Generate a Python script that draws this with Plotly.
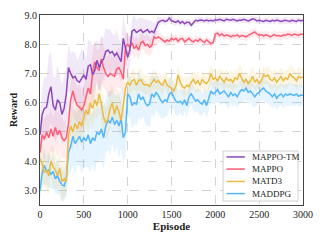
import plotly.graph_objects as go

episodes = list(range(0, 3001, 25))

mappo_tm = [4.9, 5.6, 5.8, 5.85, 6.3, 6.55, 5.9, 5.75, 6.1, 6.0, 5.6, 5.8, 6.3,
            7.2, 7.0, 6.85, 6.9, 6.75, 6.7, 6.85, 6.95, 6.8, 7.25, 7.3, 6.95, 7.1, 7.45, 7.2,
            7.4, 7.5, 7.75, 7.8, 7.7, 7.75, 7.6, 7.7, 7.55, 7.4, 8.2, 7.9, 7.55, 7.8,
            8.45, 8.5, 8.4, 8.45, 8.5, 8.4, 8.45, 8.5, 8.4, 8.45, 8.4, 8.6, 8.75,
            8.8, 8.82, 8.78, 8.8, 8.9, 8.8, 8.78, 8.75, 8.8, 8.72, 8.78, 8.7, 8.75, 8.75, 8.65,
            8.72, 8.82, 8.8, 8.83, 8.82, 8.8, 8.83, 8.8, 8.82, 8.8, 8.84, 8.82, 8.85, 8.83,
            8.8, 8.85, 8.83, 8.82, 8.85, 8.82, 8.8, 8.83, 8.82, 8.85, 8.82, 8.8, 8.83, 8.87,
            8.85, 8.8, 8.82, 8.8, 8.78, 8.82, 8.8, 8.78, 8.82, 8.8, 8.83, 8.8, 8.78, 8.8,
            8.82, 8.8, 8.78, 8.82, 8.8, 8.78, 8.83, 8.8, 8.82]

mappo = [4.3, 4.9, 4.75, 5.0, 4.8, 5.1, 4.85, 5.15, 4.9, 5.05, 4.8, 4.7, 4.8,
         5.3, 6.1, 6.4, 6.1, 5.9, 5.85, 5.75, 5.9, 6.2, 6.5, 6.3, 7.0, 7.4, 7.2, 7.1,
         7.5, 7.2, 7.0, 6.9, 7.0, 6.95, 6.9, 7.15, 7.2, 7.05, 6.8, 7.9, 8.0, 7.9,
         8.05, 7.85, 7.95, 7.8, 8.05, 8.1, 7.95, 8.0, 7.9, 7.95, 8.25, 8.2, 8.25,
         8.2, 8.15, 8.08, 8.15, 8.1, 8.2, 8.15, 8.2, 8.1, 8.18, 8.2, 8.08, 8.15, 8.2, 8.12,
         8.08, 8.15, 8.1, 8.18, 8.1, 8.05, 8.15, 8.1, 8.02, 8.05, 8.35, 8.38, 8.3, 8.35,
         8.28, 8.32, 8.3, 8.25, 8.3, 8.28, 8.32, 8.25, 8.3, 8.28, 8.25, 8.3, 8.35, 8.38,
         8.42, 8.35, 8.3, 8.33, 8.28, 8.32, 8.3, 8.25, 8.3, 8.33, 8.28, 8.3, 8.27, 8.32,
         8.3, 8.35, 8.33, 8.3, 8.35, 8.32, 8.3, 8.35, 8.33]

matd3 = [4.1, 3.9, 3.6, 3.7, 3.5, 4.0, 3.8, 3.7, 3.5, 3.75, 3.3, 3.4, 3.3,
         4.9, 5.2, 5.0, 5.3, 5.1, 5.35, 5.2, 5.5, 5.75, 5.6, 6.0, 5.8, 6.1, 5.9, 6.3,
         5.95, 5.5, 5.3, 5.45, 5.8, 6.0, 5.6, 5.9, 5.7, 5.4, 5.9, 6.5, 6.7, 6.6,
         6.75, 6.8, 6.6, 6.75, 6.8, 6.65, 6.6, 6.62, 6.55, 6.7, 6.8, 6.7, 6.75,
         6.65, 6.6, 6.8, 6.6, 6.55, 6.5, 6.4, 6.55, 6.95, 6.7, 6.55, 6.5, 6.6, 6.55, 6.7,
         6.8, 6.65, 6.75, 6.6, 6.8, 6.7, 6.65, 6.75, 7.0, 6.8, 6.85, 6.75, 6.9, 6.8,
         6.7, 6.85, 6.75, 6.8, 6.7, 6.85, 6.8, 7.0, 6.85, 6.7, 6.8, 6.65, 6.75, 6.9,
         6.7, 6.8, 6.65, 6.75, 6.95, 6.9, 6.95, 6.8, 6.75, 6.85, 6.7, 6.8, 6.9, 6.75,
         6.85, 6.8, 7.0, 6.9, 6.85, 6.75, 6.9, 6.85, 6.88]

maddpg = [3.0, 3.6, 3.85, 3.65, 3.7, 3.55, 3.65, 3.4, 3.5, 3.3, 3.2, 3.15, 3.4,
          4.3, 4.5, 4.85, 4.6, 4.75, 4.85, 4.65, 4.8, 4.7, 4.9, 4.6, 4.8, 4.7, 5.0, 4.9,
          5.1, 4.8, 5.2, 5.4, 5.3, 5.5, 5.25, 5.4, 5.2, 5.45, 4.8, 5.0, 6.3, 6.2,
          5.9, 6.0, 5.95, 6.3, 6.1, 6.2, 6.0, 5.9, 5.95, 6.3, 6.2, 6.35, 6.25,
          6.1, 6.0, 6.1, 6.05, 6.3, 6.35, 6.2, 6.05, 6.0, 6.05, 5.95, 6.1, 5.9, 6.2, 6.3,
          6.15, 6.05, 6.1, 6.0, 5.95, 6.1, 5.9, 6.15, 6.4, 6.3, 6.35, 6.45, 6.3, 6.35,
          6.4, 6.3, 6.2, 6.35, 6.25, 6.3, 6.2, 6.35, 6.45, 6.4, 6.5, 6.35, 6.4, 6.3,
          6.2, 6.3, 6.35, 6.45, 6.5, 6.4, 6.35, 6.3, 6.2, 6.3, 6.15, 6.25, 6.3, 6.2,
          6.3, 6.25, 6.3, 6.28, 6.25, 6.3, 6.22, 6.26, 6.25]

# half-width of the shaded spread bands
mappo_tm_sd = [0.6, 0.9, 1.1, 1.0, 1.3, 1.2, 1.0, 1.1, 1.2, 0.9, 1.0, 1.1, 0.9,
               0.8, 0.7, 0.9, 0.8, 0.7, 0.9, 1.0, 0.8, 0.7, 0.9, 0.8, 1.0, 0.9, 0.7, 0.8,
               0.9, 0.7, 0.8, 0.7, 0.8, 0.6, 0.7, 0.8, 0.6, 0.7, 0.8, 0.6, 0.7, 0.5,
               0.4, 0.5, 0.4, 0.45, 0.4, 0.5, 0.4, 0.35, 0.4, 0.35, 0.3, 0.25, 0.2,
               0.12, 0.1, 0.13, 0.09, 0.12, 0.1, 0.14, 0.11, 0.1, 0.12, 0.09, 0.13, 0.1, 0.12, 0.11,
               0.1, 0.09, 0.12, 0.1, 0.11, 0.09, 0.1, 0.12, 0.1, 0.09, 0.11, 0.1, 0.12, 0.09,
               0.1, 0.11, 0.09, 0.1, 0.12, 0.1, 0.09, 0.11, 0.1, 0.12, 0.09, 0.1, 0.11, 0.1,
               0.09, 0.12, 0.1, 0.11, 0.09, 0.1, 0.12, 0.1, 0.09, 0.11, 0.1, 0.12, 0.09, 0.1,
               0.11, 0.1, 0.09, 0.12, 0.1, 0.11, 0.09, 0.1, 0.1]

mappo_sd = [0.4, 0.6, 0.7, 0.6, 0.8, 0.7, 0.6, 0.7, 0.8, 0.6, 0.7, 0.6, 0.7,
            0.8, 0.7, 0.8, 0.7, 0.6, 0.8, 0.7, 0.6, 0.8, 0.7, 0.8, 0.7, 0.8, 0.6, 0.7,
            0.8, 0.7, 0.6, 0.7, 0.8, 0.6, 0.7, 0.6, 0.7, 0.6, 0.7, 0.5, 0.4, 0.35,
            0.3, 0.35, 0.3, 0.35, 0.3, 0.25, 0.3, 0.35, 0.3, 0.25, 0.3, 0.25, 0.2,
            0.15, 0.13, 0.16, 0.12, 0.15, 0.13, 0.14, 0.16, 0.12, 0.15, 0.13, 0.17, 0.14, 0.12, 0.15,
            0.13, 0.16, 0.14, 0.12, 0.15, 0.13, 0.14, 0.12, 0.15, 0.13, 0.14, 0.12, 0.15, 0.13,
            0.14, 0.12, 0.13, 0.15, 0.12, 0.14, 0.13, 0.12, 0.15, 0.13, 0.14, 0.12, 0.13, 0.15,
            0.12, 0.14, 0.13, 0.12, 0.15, 0.13, 0.14, 0.12, 0.13, 0.15, 0.12, 0.14, 0.13, 0.12,
            0.15, 0.13, 0.14, 0.12, 0.13, 0.15, 0.12, 0.14, 0.13]

matd3_sd = [0.4, 0.6, 0.5, 0.7, 0.6, 0.5, 0.7, 0.6, 0.5, 0.6, 0.7, 0.6, 0.5,
            0.6, 0.7, 0.6, 0.5, 0.7, 0.6, 0.7, 0.6, 0.5, 0.7, 0.6, 0.7, 0.6, 0.5, 0.6,
            0.7, 0.6, 0.5, 0.6, 0.7, 0.6, 0.5, 0.6, 0.7, 0.6, 0.5, 0.45, 0.4, 0.35,
            0.4, 0.35, 0.3, 0.35, 0.4, 0.3, 0.35, 0.3, 0.35, 0.3, 0.35, 0.3, 0.3,
            0.3, 0.35, 0.28, 0.32, 0.3, 0.35, 0.28, 0.3, 0.33, 0.3, 0.28, 0.35, 0.3, 0.32, 0.28,
            0.3, 0.35, 0.3, 0.28, 0.32, 0.3, 0.35, 0.3, 0.28, 0.33, 0.3, 0.32, 0.28, 0.3,
            0.35, 0.3, 0.28, 0.32, 0.3, 0.33, 0.28, 0.3, 0.35, 0.3, 0.32, 0.28, 0.3, 0.33,
            0.3, 0.28, 0.35, 0.3, 0.32, 0.28, 0.3, 0.33, 0.3, 0.28, 0.35, 0.3, 0.32, 0.3,
            0.28, 0.33, 0.3, 0.32, 0.28, 0.3, 0.35, 0.3, 0.3]

maddpg_sd = [0.3, 0.5, 0.6, 0.5, 0.6, 0.5, 0.6, 0.5, 0.6, 0.5, 0.6, 0.5, 0.6,
             0.8, 0.9, 1.0, 1.1, 0.9, 1.0, 1.1, 1.0, 0.9, 1.1, 1.0, 0.9, 1.1, 1.0, 0.9,
             1.0, 1.1, 0.9, 1.0, 1.1, 0.9, 1.0, 0.9, 1.1, 1.0, 0.9, 0.8, 0.8, 0.7,
             0.8, 0.7, 0.75, 0.8, 0.7, 0.65, 0.75, 0.7, 0.8, 0.65, 0.7, 0.6, 0.65,
             0.6, 0.55, 0.6, 0.5, 0.55, 0.5, 0.45, 0.5, 0.45, 0.4, 0.45, 0.4, 0.42, 0.38, 0.4,
             0.42, 0.38, 0.4, 0.45, 0.38, 0.4, 0.42, 0.38, 0.4, 0.36, 0.4, 0.42, 0.38, 0.4,
             0.36, 0.4, 0.42, 0.38, 0.4, 0.36, 0.4, 0.38, 0.42, 0.36, 0.4, 0.38, 0.4, 0.42,
             0.36, 0.38, 0.4, 0.36, 0.42, 0.38, 0.4, 0.36, 0.38, 0.4, 0.42, 0.36, 0.38, 0.4,
             0.36, 0.38, 0.4, 0.36, 0.38, 0.35, 0.38, 0.36, 0.35]

legend_names = ["MAPPO-TM", "MAPPO", "MATD3", "MADDPG"]

series = [
    ("MADDPG", maddpg, maddpg_sd, "#52B6FA", "rgba(82,182,250,0.15)"),
    ("MATD3", matd3, matd3_sd, "#EBBA44", "rgba(235,186,68,0.15)"),
    ("MAPPO", mappo, mappo_sd, "#FF5C75", "rgba(255,92,117,0.13)"),
    ("MAPPO-TM", mappo_tm, mappo_tm_sd, "#8E48BE", "rgba(142,72,190,0.12)"),
]
colors = {s[0]: s[3] for s in series}

fig = go.Figure()
for name, vals, sd, col, fill in series:
    upper = [v + s for v, s in zip(vals, sd)]
    lower = [v - s for v, s in zip(vals, sd)]
    fig.add_trace(go.Scatter(x=episodes, y=upper, mode="lines", line=dict(width=0),
                             showlegend=False, hoverinfo="skip"))
    fig.add_trace(go.Scatter(x=episodes, y=lower, mode="lines", line=dict(width=0),
                             fill="tonexty", fillcolor=fill, showlegend=False,
                             hoverinfo="skip"))
for name, vals, sd, col, fill in series:
    fig.add_trace(go.Scatter(x=episodes, y=vals, mode="lines", name=name,
                             line=dict(color=col, width=1.5), showlegend=False))

serif = "Liberation Serif, Times New Roman, serif"

# compact legend box (paper coordinates)
shapes = [dict(type="rect", xref="paper", yref="paper", x0=0.696, x1=0.981,
               y0=0.021, y1=0.284, fillcolor="white", line=dict(color="#d0d0d0", width=1),
               layer="above")]
annotations = []
row_y = [0.253, 0.189, 0.124, 0.06]
for nm, yy in zip(legend_names, row_y):
    shapes.append(dict(type="line", xref="paper", yref="paper", x0=0.709, x1=0.779,
                       y0=yy, y1=yy, line=dict(color=colors[nm], width=1.5), layer="above"))
    annotations.append(dict(text=nm, xref="paper", yref="paper", x=0.797, y=yy,
                            xanchor="left", yanchor="middle", showarrow=False,
                            font=dict(family=serif, size=9, color="#222")))

fig.update_layout(
    width=316, height=235,
    margin=dict(l=32, r=21, t=7, b=38, autoexpand=False),
    paper_bgcolor="white", plot_bgcolor="white",
    font=dict(family=serif, size=10, color="#222"),
    showlegend=False,
    shapes=shapes, annotations=annotations,
)
fig.update_xaxes(range=[0, 3000], tickvals=[0, 500, 1000, 1500, 2000, 2500, 3000],
                 showgrid=True, gridcolor="#d4d4d4", griddash="dash", gridwidth=0.8,
                 showline=True, linecolor="#444", linewidth=1.2, mirror=True,
                 zeroline=False, ticks="", ticklen=0, automargin=False,
                 title=dict(text="<b>Episode</b>", font=dict(family=serif, size=11),
                            standoff=3))
fig.update_yaxes(range=[2.5, 9.0], tickvals=[3, 4, 5, 6, 7, 8, 9], tickformat=".1f",
                 showgrid=True, gridcolor="#d4d4d4", griddash="dash", gridwidth=0.8,
                 showline=True, linecolor="#444", linewidth=1.2, mirror=True,
                 zeroline=False, ticks="", ticklen=0, automargin=False,
                 title=dict(text="<b>Reward</b>", font=dict(family=serif, size=10),
                            standoff=6))

fig.write_html("out.html")
